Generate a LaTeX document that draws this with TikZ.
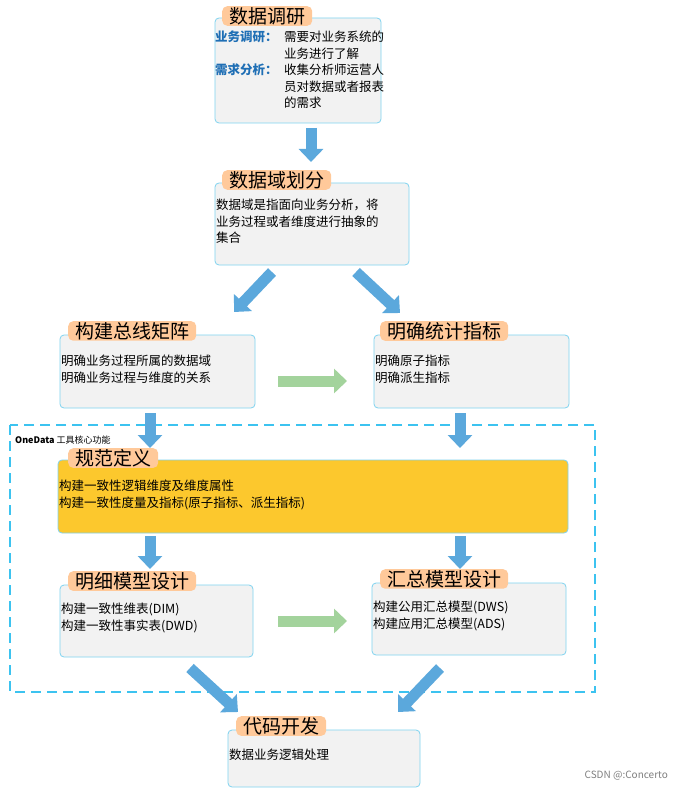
\documentclass[tikz,border=0pt]{standalone}
\usepackage{fontspec}
\setmainfont{Noto Sans CJK SC}
\usetikzlibrary{arrows.meta}
\definecolor{bx}{HTML}{F2F2F2}
\definecolor{bd}{HTML}{7FD3F0}
\definecolor{tab}{HTML}{FFC99A}
\definecolor{ar}{HTML}{5BA8DC}
\definecolor{gr}{HTML}{A3D39C}
\definecolor{yl}{HTML}{FCC82D}
\definecolor{lb}{HTML}{1F6FB5}
\definecolor{dsh}{HTML}{3CC3F0}
\begin{document}
\begin{tikzpicture}[x=1pt,y=-1pt,
 box/.style={draw=bd,fill=bx,rounded corners=4pt,line width=0.8pt},
 tabn/.style={fill=tab,rounded corners=5pt,anchor=north west,inner xsep=7pt,inner ysep=1pt,font=\fontsize{19}{21}\selectfont},
 txt/.style={anchor=north west,inner sep=0pt,font=\fontsize{12.5}{16.5}\selectfont,align=left},
 barr/.style={ar,line width=11pt,-{Triangle[width=24pt,length=13pt]}},
 garr/.style={gr,line width=11pt,-{Triangle[width=24pt,length=13pt]}}]
\useasboundingbox (0,0) rectangle (683,791);
\fill[white] (0,0) rectangle (683,791);
% dashed frame
\draw[dsh,dash pattern=on 10pt off 6pt,line width=1.1pt] (10,425) rectangle (595,692);
\node[anchor=west,inner sep=0pt,font=\fontsize{9}{10}\selectfont] (od) at (15,440) {\textbf{OneData} 工具核心功能};
% boxes
\draw[box] (215,18) rectangle (381,123);
\node[tabn] (t1) at (222,6) {数据调研};
\node[txt] (l1) at (215,31) {\textcolor{lb}{\textbf{业务调研：}}};
\node[txt] (d1) at (284,31) {需要对业务系统的\\业务进行了解};
\node[txt] (l2) at (215,64) {\textcolor{lb}{\textbf{需求分析：}}};
\node[txt] (d2) at (284,64) {收集分析师运营人\\员对数据或者报表\\的需求};

\draw[box] (215,183) rectangle (409,265);
\node[tabn] (t2) at (222,170) {数据域划分};
\node[txt] (d3) at (216,199) {数据域是指面向业务分析，将\\业务过程或者维度进行抽象的\\集合};

\draw[box] (60,335) rectangle (255,408);
\node[tabn] (t3) at (68,321) {构建总线矩阵};
\node[txt] (d4) at (61,355) {明确业务过程所属的数据域\\明确业务过程与维度的关系};

\draw[box] (374,335) rectangle (569,408);
\node[tabn] (t4) at (380,321) {明确统计指标};
\node[txt] (d5) at (375,355) {明确原子指标\\明确派生指标};

\draw[box,fill=yl] (58,460) rectangle (568,533);
\node[tabn] (t5) at (68,448) {规范定义};
\node[txt] (d6) at (59,480) {构建一致性逻辑维度及维度属性\\构建一致性度量及指标(原子指标、派生指标)};

\draw[box] (60,585) rectangle (253,657);
\node[tabn] (t6) at (68,571) {明细模型设计};
\node[txt] (d7) at (61,603) {构建一致性维表(DIM)\\构建一致性事实表(DWD)};

\draw[box] (372,583) rectangle (566,655);
\node[tabn] (t7) at (380,569) {汇总模型设计};
\node[txt] (d8) at (373,601) {构建公用汇总模型(DWS)\\构建应用汇总模型(ADS)};

\draw[box] (228,730) rectangle (420,787);
\node[tabn] (t8) at (236,716) {代码开发};
\node[txt] (d9) at (229,749) {数据业务逻辑处理};

\node[anchor=east,inner sep=0pt,font=\fontsize{10}{11}\selectfont,text=gray] (wm) at (668,776) {CSDN @:Concerto};

% arrows
\coordinate (a1s) at (311,128); \coordinate (a1e) at (311,162);
\draw[barr] (a1s) -- (a1e);
\coordinate (a2s) at (272,272); \coordinate (a2e) at (234,312);
\draw[barr] (a2s) -- (a2e);
\coordinate (a3s) at (356,272); \coordinate (a3e) at (400,313);
\draw[barr] (a3s) -- (a3e);
\coordinate (a4s) at (278,381); \coordinate (a4e) at (347,381);
\draw[garr] (a4s) -- (a4e);
\coordinate (a5s) at (150,413); \coordinate (a5e) at (150,448);
\draw[barr] (a5s) -- (a5e);
\coordinate (a6s) at (460,413); \coordinate (a6e) at (460,448);
\draw[barr] (a6s) -- (a6e);
\coordinate (a7s) at (150,536); \coordinate (a7e) at (150,569);
\draw[barr] (a7s) -- (a7e);
\coordinate (a8s) at (460,536); \coordinate (a8e) at (460,569);
\draw[barr] (a8s) -- (a8e);
\coordinate (a9s) at (278,621); \coordinate (a9e) at (347,621);
\draw[garr] (a9s) -- (a9e);
\coordinate (a10s) at (190,668); \coordinate (a10e) at (238,712);
\draw[barr] (a10s) -- (a10e);
\coordinate (a11s) at (440,668); \coordinate (a11e) at (398,712);
\draw[barr] (a11s) -- (a11e);
\end{tikzpicture}
\end{document}
